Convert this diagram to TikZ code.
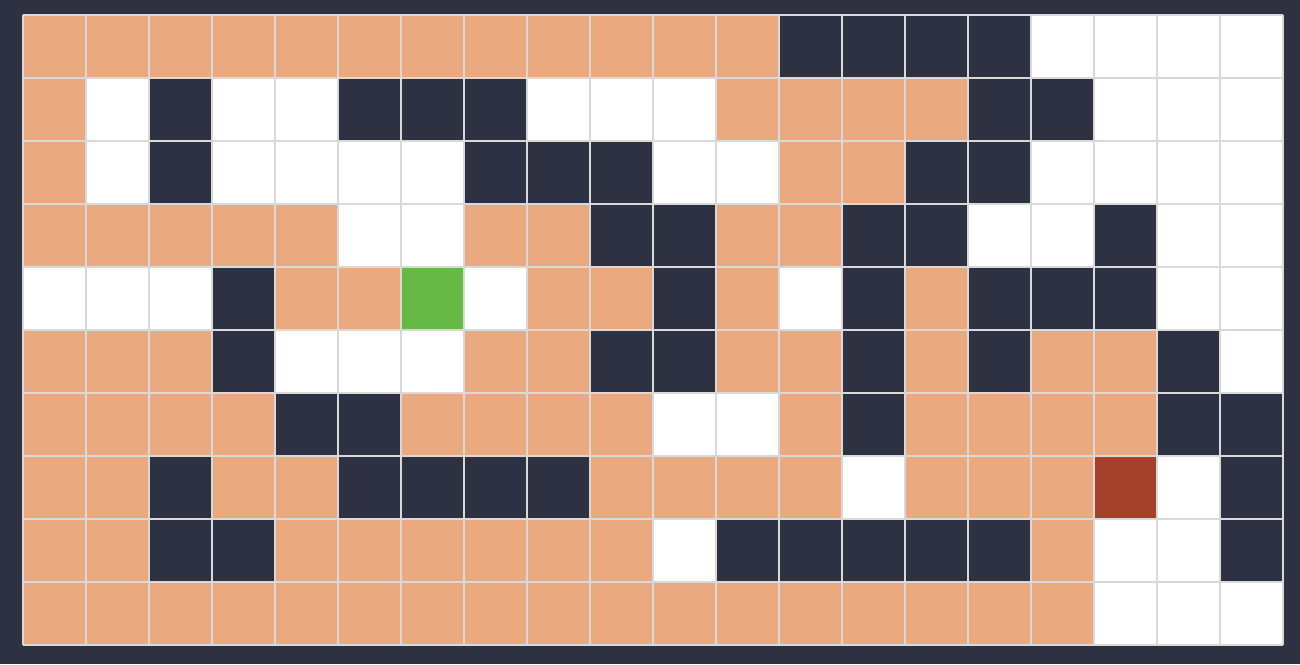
\documentclass[tikz,border=0pt]{standalone}
\usepackage{tikz}
\usetikzlibrary{positioning}
\usepackage{xcolor}

\definecolor{fondo}{HTML}{2E3142}
\definecolor{naranja}{HTML}{EBA980}
\definecolor{muro}{HTML}{2E3142}
\definecolor{inicio}{HTML}{66B945}
\definecolor{meta}{HTML}{A5402D}
\definecolor{rejilla}{HTML}{D9D9D9}

\tikzset{
  celdaO/.style={fill=naranja},
  celdaD/.style={fill=muro},
  celdaW/.style={fill=white},
  celdaG/.style={fill=inicio},
  celdaR/.style={fill=meta},
  linea/.style={draw=rejilla, line width=0.04cm}
}

\begin{document}
\begin{tikzpicture}[x=0.02cm, y=-0.02cm]
%====================================================
% FONDO
%====================================================
\fill[fondo] (0,0) rectangle (1300,664);
\useasboundingbox (0,0) rectangle (1300,664);

%====================================================
% CELDAS (O naranja, D muro, W libre, G inicio, R meta)
%====================================================
\foreach \fila [count=\r from 0] in {%
  {O,O,O,O,O,O,O,O,O,O,O,O,D,D,D,D,W,W,W,W},
  {O,W,D,W,W,D,D,D,W,W,W,O,O,O,O,D,D,W,W,W},
  {O,W,D,W,W,W,W,D,D,D,W,W,O,O,D,D,W,W,W,W},
  {O,O,O,O,O,W,W,O,O,D,D,O,O,D,D,W,W,D,W,W},
  {W,W,W,D,O,O,G,W,O,O,D,O,W,D,O,D,D,D,W,W},
  {O,O,O,D,W,W,W,O,O,D,D,O,O,D,O,D,O,O,D,W},
  {O,O,O,O,D,D,O,O,O,O,W,W,O,D,O,O,O,O,D,D},
  {O,O,D,O,O,D,D,D,D,O,O,O,O,W,O,O,O,R,W,D},
  {O,O,D,D,O,O,O,O,O,O,W,D,D,D,D,D,O,W,W,D},
  {O,O,O,O,O,O,O,O,O,O,O,O,O,O,O,O,O,W,W,W}}{
  \foreach \c [count=\x from 0] in \fila {
    \path[celda\c] (22.5+63*\x,15+63*\r) rectangle ++(63,63);
  }
}

%====================================================
% REJILLA
%====================================================
\foreach \x in {0,...,20}
  \draw[linea] (22.5+63*\x,15) -- (22.5+63*\x,645);
\foreach \r in {0,...,10}
  \draw[linea] (22.5,15+63*\r) -- (1282.5,15+63*\r);
\end{tikzpicture}
\end{document}
